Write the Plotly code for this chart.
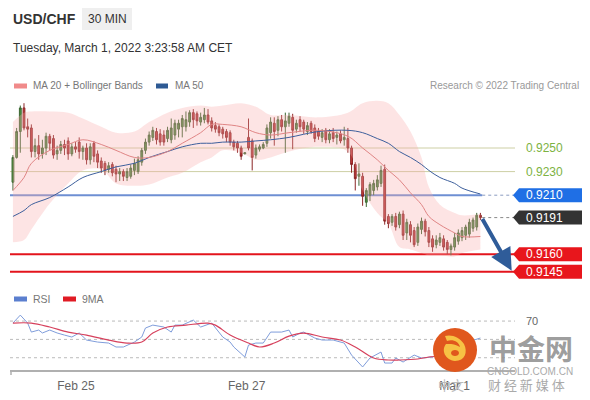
import plotly.graph_objects as go

# ---------------- data ----------------
candle_idx = list(range(128))
opens = [0.9221,0.9242,0.9264,0.9284,0.9268,0.9267,0.9247,0.9252,0.9245,0.9250,
         0.9260,0.9258,0.9245,0.9248,0.9253,0.9256,0.9245,0.9251,0.9255,0.9247,
         0.9250,0.9240,0.9254,0.9245,0.9239,0.9237,0.9232,0.9236,0.9232,0.9228,
         0.9230,0.9225,0.9226,0.9231,0.9230,0.9238,0.9248,0.9255,0.9259,0.9264,
         0.9262,0.9261,0.9258,0.9257,0.9261,0.9266,0.9268,0.9268,0.9272,0.9280,
         0.9279,0.9272,0.9274,0.9278,0.9273,0.9269,0.9268,0.9266,0.9264,0.9263,
         0.9255,0.9254,0.9250,0.9245,0.9259,0.9256,0.9244,0.9249,0.9250,0.9254,
         0.9263,0.9271,0.9265,0.9274,0.9268,0.9271,0.9276,0.9266,0.9274,0.9272,
         0.9264,0.9271,0.9267,0.9264,0.9259,0.9265,0.9257,0.9263,0.9259,0.9262,
         0.9257,0.9258,0.9250,0.9236,0.9226,0.9226,0.9204,0.9210,0.9214,0.9217,
         0.9220,0.9232,0.9192,0.9187,0.9192,0.9185,0.9194,0.9178,0.9185,0.9180,
         0.9170,0.9181,0.9188,0.9180,0.9173,0.9168,0.9170,0.9173,0.9170,0.9164,
         0.9166,0.9171,0.9174,0.9176,0.9177,0.9182,0.9183,0.9193]
highs = [0.9244,0.9267,0.9286,0.9288,0.9275,0.9270,0.9258,0.9261,0.9257,0.9263,
         0.9262,0.9261,0.9252,0.9256,0.9257,0.9259,0.9254,0.9255,0.9259,0.9252,
         0.9254,0.9254,0.9256,0.9248,0.9242,0.9239,0.9238,0.9238,0.9235,0.9233,
         0.9232,0.9233,0.9236,0.9241,0.9243,0.9250,0.9258,0.9264,0.9268,0.9267,
         0.9266,0.9265,0.9268,0.9275,0.9274,0.9274,0.9278,0.9281,0.9282,0.9283,
         0.9281,0.9280,0.9284,0.9283,0.9276,0.9272,0.9270,0.9268,0.9266,0.9265,
         0.9257,0.9256,0.9252,0.9246,0.9275,0.9258,0.9253,0.9253,0.9255,0.9270,
         0.9276,0.9276,0.9277,0.9278,0.9280,0.9280,0.9279,0.9274,0.9277,0.9274,
         0.9272,0.9273,0.9270,0.9267,0.9266,0.9267,0.9266,0.9267,0.9264,0.9265,
         0.9268,0.9267,0.9252,0.9238,0.9237,0.9229,0.9216,0.9221,0.9223,0.9227,
         0.9235,0.9236,0.9194,0.9194,0.9195,0.9196,0.9197,0.9190,0.9188,0.9183,
         0.9186,0.9191,0.9190,0.9183,0.9176,0.9176,0.9178,0.9176,0.9172,0.9169,
         0.9178,0.9181,0.9183,0.9185,0.9190,0.9191,0.9195,0.9195]
lows = [0.9214,0.9241,0.9246,0.9265,0.9259,0.9242,0.9242,0.9240,0.9241,0.9244,
        0.9248,0.9241,0.9240,0.9245,0.9244,0.9240,0.9243,0.9246,0.9241,0.9240,
        0.9236,0.9236,0.9238,0.9233,0.9229,0.9227,0.9229,0.9226,0.9221,0.9222,
        0.9222,0.9222,0.9224,0.9227,0.9228,0.9235,0.9245,0.9252,0.9256,0.9253,
        0.9252,0.9252,0.9255,0.9254,0.9257,0.9259,0.9259,0.9264,0.9268,0.9267,
        0.9269,0.9269,0.9271,0.9270,0.9264,0.9263,0.9260,0.9258,0.9255,0.9252,
        0.9248,0.9246,0.9240,0.9245,0.9248,0.9231,0.9241,0.9247,0.9249,0.9251,
        0.9258,0.9252,0.9260,0.9264,0.9246,0.9268,0.9249,0.9263,0.9264,0.9262,
        0.9261,0.9262,0.9255,0.9257,0.9255,0.9254,0.9254,0.9255,0.9253,0.9254,
        0.9252,0.9246,0.9229,0.9214,0.9218,0.9201,0.9200,0.9205,0.9210,0.9214,
        0.9217,0.9185,0.9182,0.9184,0.9180,0.9182,0.9172,0.9172,0.9170,0.9166,
        0.9167,0.9177,0.9175,0.9166,0.9162,0.9165,0.9167,0.9163,0.9160,0.9159,
        0.9163,0.9168,0.9171,0.9172,0.9174,0.9179,0.9180,0.9189]
closes = [0.9242,0.9264,0.9284,0.9267,0.9266,0.9247,0.9252,0.9245,0.9250,0.9260,
          0.9254,0.9244,0.9248,0.9253,0.9250,0.9245,0.9251,0.9249,0.9247,0.9250,
          0.9240,0.9251,0.9243,0.9238,0.9233,0.9231,0.9235,0.9229,0.9228,0.9230,
          0.9226,0.9230,0.9233,0.9237,0.9240,0.9248,0.9255,0.9261,0.9265,0.9257,
          0.9255,0.9255,0.9265,0.9267,0.9271,0.9271,0.9275,0.9274,0.9280,0.9274,
          0.9273,0.9276,0.9278,0.9272,0.9267,0.9266,0.9263,0.9262,0.9259,0.9255,
          0.9251,0.9250,0.9243,0.9246,0.9250,0.9242,0.9250,0.9251,0.9253,0.9267,
          0.9272,0.9264,0.9274,0.9268,0.9273,0.9277,0.9265,0.9271,0.9268,0.9266,
          0.9269,0.9264,0.9258,0.9260,0.9263,0.9257,0.9262,0.9258,0.9261,0.9256,
          0.9259,0.9250,0.9236,0.9224,0.9228,0.9209,0.9214,0.9219,0.9220,0.9223,
          0.9231,0.9188,0.9186,0.9192,0.9183,0.9194,0.9176,0.9187,0.9176,0.9168,
          0.9183,0.9188,0.9179,0.9170,0.9166,0.9172,0.9174,0.9166,0.9164,0.9167,
          0.9174,0.9178,0.9180,0.9183,0.9187,0.9189,0.9193,0.9191]

line_idx = [0,3,5,10,15,19,24,28,33,37,42,46,51,54,57,62,66,70,75,83,91,95,99,102,105,108,111,113,116,120,122,127]
bb_upper = [0.9272,0.9280,0.9281,0.9281,0.9280,0.9275,0.9268,0.9263,0.9264,0.9272,0.9280,0.9284,0.9286,0.9285,0.9286,0.9288,
            0.9285,0.9278,0.9278,0.9276,0.9280,0.9288,0.9290,0.9288,0.9278,0.9264,0.9242,0.9217,0.9202,0.9195,0.9193,0.9194]
bb_lower = [0.9170,0.9172,0.9181,0.9203,0.9220,0.9231,0.9232,0.9220,0.9218,0.9219,0.9225,0.9229,0.9238,0.9242,0.9248,0.9246,
            0.9240,0.9242,0.9247,0.9251,0.9247,0.9214,0.9195,0.9186,0.9166,0.9164,0.9161,0.9159,0.9159,0.9158,0.9161,0.9164]
ma20 = [0.9214,0.9225,0.9237,0.9248,0.9253,0.9257,0.9253,0.9248,0.9242,0.9242,0.9247,0.9254,0.9263,0.9270,0.9270,0.9268,
        0.9263,0.9261,0.9263,0.9265,0.9260,0.9250,0.9240,0.9231,0.9223,0.9212,0.9202,0.9192,0.9185,0.9178,0.9175,0.9175]
ma50 = [0.9192,0.9197,0.9202,0.9208,0.9217,0.9225,0.9230,0.9234,0.9237,0.9242,0.9247,0.9251,0.9254,0.9254,0.9255,0.9255,
        0.9256,0.9257,0.9259,0.9264,0.9265,0.9263,0.9258,0.9254,0.9247,0.9242,0.9236,0.9231,0.9225,0.9220,0.9216,0.9211]

rsi_idx = [0,2,4,5,7,8,10,12,14,16,18,20,23,26,28,30,33,35,36,38,41,43,44,46,49,51,54,57,59,60,63,64,66,68,70,73,75,76,
           78,79,82,84,87,90,92,95,97,100,101,103,104,106,109,111,114,117,121,127]
rsi_vals = [67.8,76.5,67.8,58.0,60.2,57.0,60.2,57.0,54.7,52.6,57.0,49.3,47.1,46.0,41.7,41.7,47.1,52.6,62.4,65.6,63.5,58.0,
            65.6,65.6,71.1,63.5,67.8,52.6,47.1,41.7,30.8,43.8,46.0,46.0,58.0,58.0,60.2,52.6,56.9,58.0,51.5,49.3,49.3,46.0,
            32.9,19.9,29.7,36.2,24.2,24.2,29.7,25.3,32.9,29.7,30.8,36.2,43.8,51.5]
ma9_idx = [0,5,10,15,20,26,31,35,38,42,47,53,55,59,64,67,71,75,79,84,89,93,98,102,105,110,113,120,126]
ma9_vals = [67.8,67.8,63.5,58.0,54.7,49.3,46.0,47.1,56.9,63.5,65.6,67.8,65.6,54.7,46.0,41.7,46.0,53.6,56.9,52.6,49.3,
            41.7,29.7,27.5,27.5,28.6,30.8,32.9,38.4]

levels = [0.9250, 0.9230, 0.9210, 0.9191, 0.9160, 0.9145]
level_labels = ["0.9250", "0.9230", "0.9210", "0.9191", "0.9160", "0.9145"]
rsi_levels = [70, 50, 30]
tick_pos = [17.1, 63.5, 120]
tick_labels = ["Feb 25", "Feb 27", "Mar 1"]
target_price = 0.9146

# ---------------- layout helpers ----------------
W, H = 590, 400
OFF = 8  # page body margin of the html page
ML, MR, MT, MB = 10 - OFF, 75 + OFF, 98 - OFF, 30 + OFF
PW, PH = W - ML - MR, H - MT - MB


def fx(px):
    return (px - OFF - ML) / PW


def fy(py):
    return (H - MB - (py - OFF)) / PH


XR = [-0.8, 136.4]
PR = [0.91364, 0.92924]
RR = [16.6, 93.0]
FONT = "Liberation Sans, Arial, sans-serif"

fig = go.Figure()
fig.add_trace(go.Scatter(x=line_idx, y=bb_upper, mode="lines", line=dict(width=0, shape="spline"),
                         hoverinfo="skip", showlegend=False))
fig.add_trace(go.Scatter(x=line_idx, y=bb_lower, mode="lines", line=dict(width=0, shape="spline"),
                         fill="tonexty", fillcolor="rgba(250,170,170,0.32)", hoverinfo="skip", showlegend=False))
fig.add_trace(go.Scatter(x=line_idx, y=ma50, mode="lines", line=dict(width=1, color="#3d5f9c", shape="spline"),
                         hoverinfo="skip", showlegend=False))
fig.add_trace(go.Scatter(x=line_idx, y=ma20, mode="lines", line=dict(width=1, color="#e08585", shape="spline"),
                         hoverinfo="skip", showlegend=False))
fig.add_trace(go.Candlestick(x=candle_idx, open=opens, high=highs, low=lows, close=closes,
                             increasing=dict(line=dict(color="#3a6530", width=1), fillcolor="#4e9440"),
                             decreasing=dict(line=dict(color="#8a2525", width=1), fillcolor="#c53a3a"),
                             whiskerwidth=0, hoverinfo="skip", showlegend=False))
fig.add_trace(go.Scatter(x=rsi_idx, y=rsi_vals, mode="lines", line=dict(width=1, color="#7f9ddb"),
                         xaxis="x2", yaxis="y2", hoverinfo="skip", showlegend=False))
fig.add_trace(go.Scatter(x=ma9_idx, y=ma9_vals, mode="lines", line=dict(width=1.2, color="#d6405c", shape="spline"),
                         xaxis="x2", yaxis="y2", hoverinfo="skip", showlegend=False))

shapes = []
last_x = candle_idx[-1] + 0.5
# support/resistance lines
for lv in levels[:2]:
    shapes.append(dict(type="line", xref="x", yref="y", x0=XR[0], x1=XR[1], y0=lv, y1=lv,
                       line=dict(color="#cdcfa4", width=1), layer="below"))
shapes.append(dict(type="line", xref="x", yref="y", x0=XR[0], x1=last_x, y0=levels[2], y1=levels[2],
                   line=dict(color="#6e8fd3", width=2), layer="below"))
shapes.append(dict(type="line", xref="x", yref="y", x0=last_x, x1=XR[1], y0=levels[2], y1=levels[2],
                   line=dict(color="#8a9bc0", width=1, dash="dot"), layer="below"))
shapes.append(dict(type="line", xref="x", yref="y", x0=last_x, x1=XR[1], y0=levels[3], y1=levels[3],
                   line=dict(color="#888888", width=1, dash="dot"), layer="below"))
for lv in levels[4:]:
    shapes.append(dict(type="line", xref="x", yref="y", x0=XR[0], x1=XR[1], y0=lv, y1=lv,
                       line=dict(color="#e3141c", width=2), layer="below"))
# RSI guide lines
for rl in rsi_levels:
    shapes.append(dict(type="line", xref="x2", yref="y2", x0=XR[0], x1=XR[1], y0=rl, y1=rl,
                       line=dict(color="#bbbbbb", width=1, dash="dot"), layer="below"))
# label boxes
box_colors = {2: "#1f6fe5", 3: "#333333", 4: "#e8161c", 5: "#e8161c"}
annotations = []
for k, col in box_colors.items():
    shapes.append(dict(type="path", xref="paper", yref="y", xsizemode="pixel", ysizemode="pixel",
                       xanchor=fx(513), yanchor=levels[k],
                       path="M0,0 L6,7 L73,7 L73,-7 L6,-7 Z", fillcolor=col, line=dict(width=0)))
    annotations.append(dict(xref="paper", yref="y", x=fx(524), y=levels[k], text=level_labels[k],
                            showarrow=False, xanchor="left", yanchor="middle",
                            font=dict(family=FONT, size=12, color="white")))
for k in (0, 1):
    annotations.append(dict(xref="paper", yref="y", x=fx(524), y=levels[k], text=level_labels[k],
                            showarrow=False, xanchor="left", yanchor="middle",
                            font=dict(family=FONT, size=12, color="#7db242")))
# forecast arrow
annotations.append(dict(xref="x", yref="y", axref="x", ayref="y", x=135.5, y=target_price,
                        ax=candle_idx[-1] + 0.3, ay=closes[-1], text="", showarrow=True,
                        arrowhead=2, arrowsize=1.1, arrowwidth=4, arrowcolor="#2f5c99", standoff=0))

# header
shapes.append(dict(type="rect", xref="paper", yref="paper", x0=fx(82), x1=fx(132), y0=fy(30), y1=fy(7),
                   fillcolor="#efefef", line=dict(width=0)))
annotations += [
    dict(xref="paper", yref="paper", x=fx(11), y=fy(19), text="<b>USD/CHF</b>", showarrow=False,
         xanchor="left", yanchor="middle", font=dict(family=FONT, size=14, color="#333333")),
    dict(xref="paper", yref="paper", x=fx(107), y=fy(19), text="30 MIN", showarrow=False,
         xanchor="center", yanchor="middle", font=dict(family=FONT, size=12, color="#333333")),
    dict(xref="paper", yref="paper", x=fx(11), y=fy(48), text="Tuesday, March 1, 2022 3:23:58 AM CET",
         showarrow=False, xanchor="left", yanchor="middle", font=dict(family=FONT, size=12, color="#333333")),
    dict(xref="paper", yref="paper", x=fx(31), y=fy(86), text="MA 20 + Bollinger Bands", showarrow=False,
         xanchor="left", yanchor="middle", font=dict(family=FONT, size=10, color="#777777")),
    dict(xref="paper", yref="paper", x=fx(173), y=fy(86), text="MA 50", showarrow=False,
         xanchor="left", yanchor="middle", font=dict(family=FONT, size=10, color="#777777")),
    dict(xref="paper", yref="paper", x=fx(581), y=fy(86), text="Research \u00a9 2022 Trading Central",
         showarrow=False, xanchor="right", yanchor="middle", font=dict(family=FONT, size=10, color="#999999")),
    dict(xref="paper", yref="paper", x=fx(31), y=fy(299), text="RSI", showarrow=False,
         xanchor="left", yanchor="middle", font=dict(family=FONT, size=10.5, color="#777777")),
    dict(xref="paper", yref="paper", x=fx(80), y=fy(299), text="9MA", showarrow=False,
         xanchor="left", yanchor="middle", font=dict(family=FONT, size=10.5, color="#777777")),
    dict(xref="paper", yref="y2", x=fx(524), y=rsi_levels[0], text="70", showarrow=False,
         xanchor="left", yanchor="middle", font=dict(family=FONT, size=11, color="#666666")),
]
for (x0, x1, py, col) in [(14, 27, 86, "#f08a8a"), (156, 168, 86, "#2e5a94"),
                          (14, 27, 299, "#5b7fcf"), (63, 76, 299, "#e01b24")]:
    shapes.append(dict(type="rect", xref="paper", yref="paper", x0=fx(x0), x1=fx(x1),
                       y0=fy(py + 2.5), y1=fy(py - 2.5), fillcolor=col, line=dict(width=0)))
# left tick of time axis
shapes.append(dict(type="line", xref="paper", yref="paper", x0=fx(11), x1=fx(11), y0=fy(370), y1=fy(375),
                   line=dict(color="#b0b0b0", width=1.5)))

# watermark
shapes.append(dict(type="circle", xref="paper", yref="paper", x0=fx(433), x1=fx(477), y0=fy(372), y1=fy(328),
                   fillcolor="#e0571d", line=dict(width=0)))
shapes.append(dict(type="path", xref="paper", yref="paper", xsizemode="pixel", ysizemode="pixel",
                   xanchor=fx(455), yanchor=fy(350),
                   path="M-9,6 C-14,0 -10,-10 0,-11 C10,-11 13,-2 9,6 C5,13 -4,16 -10,14 L-8,9 "
                        "C-2,11 4,8 5,3 C-1,7 -8,6 -9,6 Z M-4,-3 C-4,-7 4,-7 4,-3 C4,1 -4,1 -4,-3 Z",
                   fillcolor="#f7c244", line=dict(width=0)))
annotations += [
    dict(xref="paper", yref="paper", x=fx(531), y=fy(348), text="<b>中金网</b>", showarrow=False,
         xanchor="center", yanchor="middle",
         font=dict(family="Noto Sans CJK SC", size=28, color="rgba(145,145,145,0.9)")),
    dict(xref="paper", yref="paper", x=fx(530), y=fy(371), text="CNGOLD.COM.CN", showarrow=False,
         xanchor="center", yanchor="middle", font=dict(family=FONT, size=10, color="#aaaaaa")),
    dict(xref="paper", yref="paper", x=fx(526), y=fy(384), text="财 经 新 媒 体", showarrow=False,
         xanchor="center", yanchor="middle", font=dict(family="Noto Sans CJK SC", size=13, color="#aaaaaa")),
    dict(xref="paper", yref="paper", x=fx(451), y=fy(384), text="中文", showarrow=False,
         xanchor="center", yanchor="middle", font=dict(family="Noto Sans CJK SC", size=13, color="#bbbbbb")),
]

fig.update_layout(
    width=W, height=H, margin=dict(l=ML, r=MR, t=MT, b=MB),
    paper_bgcolor="white", plot_bgcolor="white", showlegend=False,
    font=dict(family=FONT),
    xaxis=dict(domain=[0, 1], range=XR, anchor="y", visible=False, rangeslider=dict(visible=False)),
    yaxis=dict(domain=[fy(282), 1], range=PR, visible=False),
    xaxis2=dict(domain=[0, 1], range=XR, anchor="y2", showline=True, linecolor="#b0b0b0", linewidth=2,
                tickmode="array", tickvals=tick_pos, ticktext=tick_labels, ticks="outside", ticklen=4,
                tickcolor="rgba(0,0,0,0)", showgrid=False, zeroline=False,
                tickfont=dict(family=FONT, size=12, color="#666666")),
    yaxis2=dict(domain=[0, fy(300)], range=RR, visible=False),
    shapes=shapes, annotations=annotations,
)

fig.write_html("out.html")
